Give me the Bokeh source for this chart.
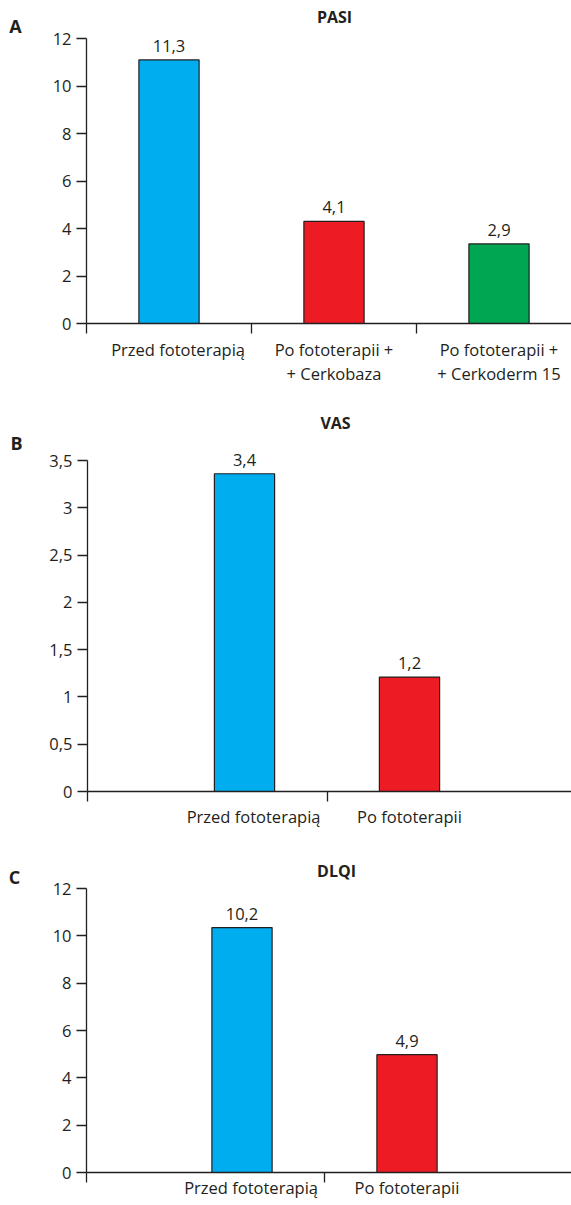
from bokeh.plotting import figure
from bokeh.models import FixedTicker, Range1d, ColumnDataSource
from bokeh.layouts import column
from bokeh.embed import file_html
from bokeh.resources import INLINE
from bokeh.core.properties import value

# ---------------- data ----------------
a_letter = "A"
a_title = "PASI"
a_categories = ["Przed fototerapią", "Po fototerapii +\n+ Cerkobaza", "Po fototerapii +\n+ Cerkoderm 15"]
a_values = [11.1, 4.3, 3.35]
a_labels = ["11,3", "4,1", "2,9"]
a_yticks = [0, 2, 4, 6, 8, 10, 12]
a_ytick_labels = ["0", "2", "4", "6", "8", "10", "12"]

b_letter = "B"
b_title = "VAS"
b_categories = ["Przed fototerapią", "Po fototerapii"]
b_values = [3.36, 1.21]
b_labels = ["3,4", "1,2"]
b_yticks = [0, 0.5, 1, 1.5, 2, 2.5, 3, 3.5]
b_ytick_labels = ["0", "0,5", "1", "1,5", "2", "2,5", "3", "3,5"]

c_letter = "C"
c_title = "DLQI"
c_categories = ["Przed fototerapią", "Po fototerapii"]
c_values = [10.35, 4.98]
c_labels = ["10,2", "4,9"]
c_yticks = [0, 2, 4, 6, 8, 10, 12]
c_ytick_labels = ["0", "2", "4", "6", "8", "10", "12"]

colors = ["#00AEEF", "#ED1C24", "#00A651"]

# ---------------- style ----------------
INK = "#231F20"
FONT = "Open Sans"
W = 571
UNIT = 165.0  # pixels per category


def make_panel(letter, title, cats, vals, labels, yticks, ylabels, *,
               height, top_px, zero_px, axis_px, cat0_px, label_standoff, nudge,
               letter_px, title_px):
    n = len(cats)
    idx = list(range(n))
    ymax = yticks[-1]
    ppu = (zero_px - top_px) / ymax

    def dx(px):
        return (px - cat0_px) / UNIT

    def dy(py):
        return (zero_px - py) / ppu

    x0, x1 = dx(0), dx(W)
    xa_start = dx(axis_px)

    p = figure(width=W, height=height, output_backend="svg", toolbar_location=None,
               x_range=Range1d(x0, x1), y_range=Range1d(dy(height), dy(0)),
               min_border=0)
    p.grid.visible = False
    p.outline_line_color = None
    p.background_fill_color = "white"
    p.border_fill_color = "white"

    src = ColumnDataSource(dict(x=idx, top=vals, lab=labels, color=colors[:n]))
    p.vbar(x="x", top="top", width=0.365, source=src, fill_color="color",
           line_color=INK, line_width=1.2)
    p.text(x="x", y="top", text="lab", source=src, text_align="center",
           text_baseline="alphabetic", y_offset=-14, text_font=value(FONT),
           text_font_size="16.5px", text_color=INK)

    # y axis, pinned at the left end of the category axis
    ya = p.yaxis[0]
    ya.fixed_location = xa_start
    ya.bounds = (0, ymax)
    ya.ticker = FixedTicker(ticks=yticks)
    ya.major_label_overrides = {t: s for t, s in zip(yticks, ylabels)}
    ya.axis_line_color = INK
    ya.axis_line_width = 1.3
    ya.major_tick_line_color = INK
    ya.major_tick_line_width = 1.3
    ya.major_tick_out = 10
    ya.major_tick_in = 0
    ya.minor_tick_line_color = None
    ya.major_label_standoff = 5
    ya.major_label_text_font = FONT
    ya.major_label_text_font_size = "16.5px"
    ya.major_label_text_color = INK

    # x axis, pinned at value 0
    xa = p.xaxis[0]
    xa.fixed_location = 0
    xa.bounds = (xa_start, x1)
    ticks = [i + nudge[i] for i in idx]
    bounds = [xa_start] + [i + 0.5 for i in idx[:-1]]
    xa.ticker = FixedTicker(ticks=ticks, minor_ticks=bounds)
    xa.major_label_overrides = {t: c for t, c in zip(ticks, cats)}
    xa.axis_line_color = INK
    xa.axis_line_width = 1.3
    xa.major_tick_line_color = None
    xa.major_tick_out = 0
    xa.major_tick_in = 0
    xa.minor_tick_line_color = INK
    xa.minor_tick_line_width = 1.3
    xa.minor_tick_out = 10
    xa.minor_tick_in = 0
    xa.major_label_standoff = label_standoff
    xa.major_label_text_font = FONT
    xa.major_label_text_font_size = "16.5px"
    xa.major_label_text_color = INK
    xa.major_label_text_line_height = 1.05

    # panel letter and title
    p.text(x=[dx(letter_px[0])], y=[dy(letter_px[1])], text=[letter],
           text_font=value(FONT), text_font_style="bold", text_font_size="18px",
           text_color=INK, text_align="center", text_baseline="middle")
    p.text(x=[dx(title_px[0])], y=[dy(title_px[1])], text=[title],
           text_font=value(FONT), text_font_style="bold", text_font_size="16px",
           text_color=INK, text_align="center", text_baseline="middle")
    return p


pa = make_panel(a_letter, a_title, a_categories, a_values, a_labels, a_yticks, a_ytick_labels,
                height=395, top_px=38, zero_px=323, axis_px=86, cat0_px=168.5,
                label_standoff=4, nudge=[0.055, 0, 0],
                letter_px=(15, 25), title_px=(334, 16))
pb = make_panel(b_letter, b_title, b_categories, b_values, b_labels, b_yticks, b_ytick_labels,
                height=450, top_px=65, zero_px=396, axis_px=87, cat0_px=244,
                label_standoff=3, nudge=[0.055, 0],
                letter_px=(16, 47), title_px=(335, 27))
pc = make_panel(c_letter, c_title, c_categories, c_values, c_labels, c_yticks, c_ytick_labels,
                height=360, top_px=43, zero_px=327, axis_px=86, cat0_px=241.5,
                label_standoff=-7, nudge=[0.055, 0],
                letter_px=(14, 31), title_px=(336, 25))

layout = column(pa, pb, pc, spacing=0)
open("out.html", "w").write(file_html(layout, INLINE))
